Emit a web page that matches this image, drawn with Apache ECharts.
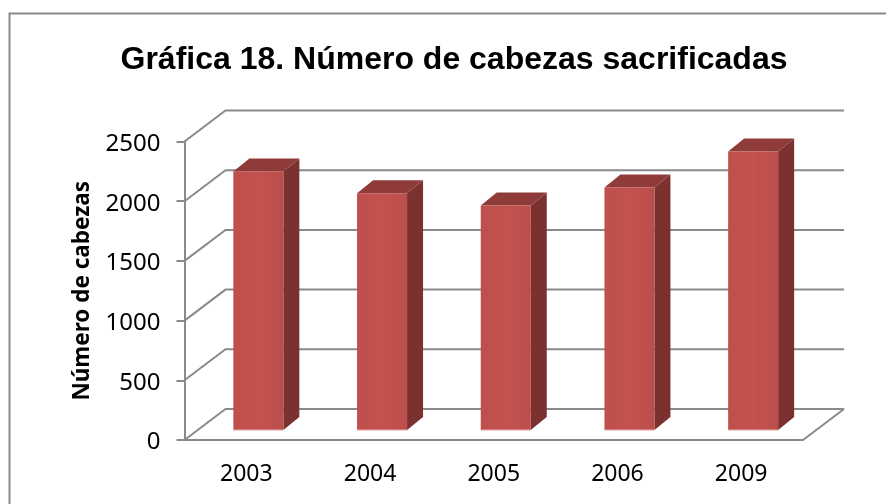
<!DOCTYPE html>
<html>
<head>
<meta charset="utf-8">
<style>
html, body { margin: 0; padding: 0; background: #fff; }
#chart { width: 886px; height: 504px; }
</style>
<script src="https://cdn.jsdelivr.net/npm/echarts@6/dist/echarts.min.js"></script>
</head>
<body>
<div id="chart"></div>
<script>
var years = ['2003', '2004', '2005', '2006', '2009'];
var cabezas = [2165, 1982, 1880, 2032, 2333];
var yTicks = [0, 500, 1000, 1500, 2000, 2500];

// profundidad del efecto 3D
var wallDx = 41, wallDy = -31;
var barDx = 16, barDy = -13;
var barWidth = 50, barShiftX = 12, barShiftY = -10;
var gris = '#8a8a8a';

var chart = echarts.init(document.getElementById('chart'));

function renderWall(params, api) {
    var y = api.coord([0, api.value(0)])[1];
    var cs = params.coordSys;
    var x0 = cs.x, x1 = cs.x + cs.width;
    var children = [{
        type: 'polyline',
        shape: { points: [[x0, y], [x0 + wallDx, y + wallDy], [x1 + wallDx, y + wallDy]] },
        style: { stroke: gris, lineWidth: 2, fill: 'none' }
    }];
    if (api.value(0) === 0) {
        children.push({
            type: 'line',
            shape: { x1: x1, y1: y, x2: x1 + wallDx, y2: y + wallDy },
            style: { stroke: gris, lineWidth: 2 }
        });
    }
    return { type: 'group', children: children };
}

function renderBar(params, api) {
    var top = api.coord([api.value(0), api.value(1)]);
    var base = api.coord([api.value(0), 0]);
    var l = top[0] + barShiftX - barWidth / 2;
    var r = l + barWidth;
    var t = top[1] + barShiftY;
    var b = base[1] + barShiftY;
    return {
        type: 'group',
        children: [
            {
                type: 'polygon',
                shape: { points: [[r, t], [r + barDx, t + barDy], [r + barDx, b + barDy], [r, b]] },
                style: { fill: '#7b3130' }
            },
            {
                type: 'polygon',
                shape: { points: [[l, t], [l + barDx, t + barDy], [r + barDx, t + barDy], [r, t]] },
                style: { fill: '#8f3b3a' }
            },
            {
                type: 'rect',
                shape: { x: l, y: t, width: barWidth, height: b - t },
                style: {
                    fill: new echarts.graphic.LinearGradient(0, 0, 1, 0, [
                        { offset: 0, color: '#bd4f4c' },
                        { offset: 0.5, color: '#c4524f' },
                        { offset: 1, color: '#bb4e4b' }
                    ])
                }
            },
            {
                type: 'line',
                shape: { x1: l, y1: b, x2: r, y2: b },
                style: { stroke: '#e9a9a7', lineWidth: 1 }
            }
        ]
    };
}

var option = {
    animation: false,
    backgroundColor: '#fff',
    title: {
        text: 'Gráfica 18. Número de cabezas sacrificadas',
        left: 449,
        top: 39,
        textAlign: 'center',
        textStyle: { fontFamily: 'Liberation Sans', fontSize: 32, fontWeight: 'bold', color: '#000' }
    },
    graphic: [{
        type: 'polyline',
        shape: { points: [[9.5, 504], [9.5, 13.5], [886, 13.5]] },
        style: { stroke: gris, lineWidth: 2, fill: 'none' }
    }],
    grid: { left: 184.5, right: 83, top: 141.5, bottom: 64 },
    xAxis: {
        type: 'category',
        data: years,
        axisLine: { lineStyle: { color: gris, width: 2 } },
        axisTick: { show: false },
        axisLabel: { color: '#000', fontFamily: 'Noto Sans', fontSize: 23, margin: 23 }
    },
    yAxis: {
        type: 'value',
        min: 0,
        max: 2500,
        interval: 500,
        name: 'Número de cabezas',
        nameLocation: 'middle',
        nameGap: 90,
        nameTextStyle: { color: '#000', fontFamily: 'Noto Sans', fontSize: 22.5, fontWeight: 'bold' },
        axisLine: { show: true, lineStyle: { color: gris, width: 2 } },
        axisTick: { show: true, length: 8, lineStyle: { color: gris, width: 2 } },
        axisLabel: {
            margin: 24,
            formatter: function (v) { return '{n|' + v + '}'; },
            rich: {
                n: { color: '#000', fontFamily: 'Noto Sans', fontSize: 24, padding: [5, 0, 0, 0] }
            }
        },
        splitLine: { show: false }
    },
    series: [
        {
            type: 'custom',
            name: 'paredes',
            renderItem: renderWall,
            encode: { y: 0 },
            data: yTicks.map(function (v) { return [v]; }),
            silent: true,
            z: 1
        },
        {
            type: 'custom',
            name: 'cabezas',
            renderItem: renderBar,
            encode: { x: 0, y: 1 },
            data: cabezas.map(function (v, i) { return [i, v]; }),
            z: 2
        }
    ]
};

chart.setOption(option);
</script>
</body>
</html>
